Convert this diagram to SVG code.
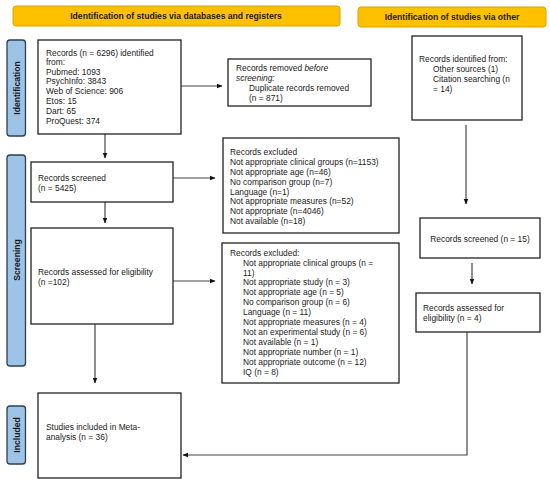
<svg xmlns="http://www.w3.org/2000/svg" width="550" height="483" viewBox="0 0 550 483">
<style>
text{font-family:"Liberation Sans",Arial,sans-serif;font-size:8.4px;fill:#1a1a1a}
.hdr{fill:#FFC000;stroke:#D9A400;stroke-width:1}
.hdrt{font-weight:bold;font-size:8.6px;text-anchor:middle}
.side{fill:#9DC3E6;stroke:#2E3F4F;stroke-width:1.3}
.sidet{font-weight:bold;font-size:8.6px;text-anchor:middle}
.box{fill:#fff;stroke:#222;stroke-width:1.3}
.ln{stroke:#444;stroke-width:1.2;fill:none}
</style>
<defs>
<marker id="ah" viewBox="0 0 10 10" refX="9" refY="5" markerWidth="6" markerHeight="6" orient="auto" markerUnits="userSpaceOnUse">
<path d="M0,1 L10,5 L0,9 z" fill="#111"/>
</marker>
</defs>
<rect width="550" height="483" fill="#fff"/>
<g id="header-db"><rect class="hdr" x="13" y="6" width="327" height="20" rx="3"/><text class="hdrt" x="176" y="19">Identification of studies via databases and registers</text></g>
<g id="header-other"><rect class="hdr" x="358" y="7" width="188" height="20" rx="3"/><text class="hdrt" x="452" y="20">Identification of studies via other</text></g>
<g id="side-identification"><rect class="side" x="7" y="40" width="18.5" height="96" rx="3"/><text class="sidet" transform="translate(19.5,88) rotate(-90)">Identification</text></g>
<g id="side-screening"><rect class="side" x="7" y="155" width="18.5" height="211" rx="3"/><text class="sidet" transform="translate(19.5,260) rotate(-90)">Screening</text></g>
<g id="side-included"><rect class="side" x="7" y="406" width="18.5" height="58" rx="3"/><text class="sidet" transform="translate(19.5,435) rotate(-90)">Included</text></g>
<g id="connectors">
<line class="ln" x1="181" y1="86" x2="222" y2="86" marker-end="url(#ah)"/>
<line class="ln" x1="105" y1="134" x2="105" y2="158" marker-end="url(#ah)"/>
<line class="ln" x1="173" y1="178" x2="215" y2="178" marker-end="url(#ah)"/>
<line class="ln" x1="105" y1="202" x2="105" y2="223" marker-end="url(#ah)"/>
<line class="ln" x1="173" y1="281" x2="215" y2="281" marker-end="url(#ah)"/>
<line class="ln" x1="95" y1="324" x2="95" y2="383" marker-end="url(#ah)"/>
<line class="ln" x1="466" y1="125" x2="466" y2="204" marker-end="url(#ah)"/>
<line class="ln" x1="472" y1="263" x2="472" y2="284" marker-end="url(#ah)"/>
<polyline class="ln" points="467,332 467,455 183,455" marker-end="url(#ah)"/>
</g>
<g id="records-identified"><rect class="box" x="38" y="40" width="143" height="94"/>
<text x="46" y="55.5">Records (n = 6296) identified</text>
<text x="46" y="65">from:</text>
<text x="46" y="74.7">Pubmed: 1093</text>
<text x="46" y="84.4">PsychInfo: 3843</text>
<text x="46" y="94.1">Web of Science: 906</text>
<text x="46" y="103.8">Etos: 15</text>
<text x="46" y="113.6">Dart: 65</text>
<text x="46" y="123.6">ProQuest: 374</text>
</g>
<g id="records-removed"><rect class="box" x="228" y="59" width="143" height="47"/>
<text x="236" y="70.8">Records removed <tspan font-style="italic">before</tspan></text>
<text x="236" y="80.8" font-style="italic">screening:</text>
<text x="249" y="90.6">Duplicate records removed</text>
<text x="249" y="100.6">(n = 871)</text>
</g>
<g id="records-other"><rect class="box" x="412" y="36" width="110" height="84"/>
<text x="419" y="62">Records identified from:</text>
<text x="433" y="72">Other sources (1)</text>
<text x="433" y="82">Citation searching (n</text>
<text x="433" y="92">= 14)</text>
</g>
<g id="records-screened"><rect class="box" x="31" y="162" width="142" height="40"/>
<text x="38" y="181">Records screened</text>
<text x="38" y="191">(n = 5425)</text>
</g>
<g id="records-excluded-1"><rect class="box" x="223" y="138" width="176" height="95"/>
<text x="230" y="155">Records excluded</text>
<text x="230" y="165">Not appropriate clinical groups (n=1153)</text>
<text x="230" y="175.4">Not appropriate age (n=46)</text>
<text x="230" y="185">No comparison group (n=7)</text>
<text x="230" y="194.7">Language (n=1)</text>
<text x="230" y="204.4">Not appropriate measures (n=52)</text>
<text x="230" y="214.4">Not appropriate (n=4046)</text>
<text x="230" y="223.7">Not available (n=18)</text>
</g>
<g id="records-assessed"><rect class="box" x="31" y="228" width="142" height="96"/>
<text x="38" y="275">Records assessed for eligibility</text>
<text x="38" y="285">(n =102)</text>
</g>
<g id="records-excluded-2"><rect class="box" x="222" y="243" width="177" height="140"/>
<text x="230" y="256">Records excluded:</text>
<text x="243" y="266">Not appropriate clinical groups (n =</text>
<text x="243" y="275.5">11)</text>
<text x="243" y="285.4">Not appropriate study (n = 3)</text>
<text x="243" y="295">Not appropriate age (n = 5)</text>
<text x="243" y="305">No comparison group (n = 6)</text>
<text x="243" y="315.3">Language (n = 11)</text>
<text x="243" y="325.3">Not appropriate measures (n = 4)</text>
<text x="243" y="335.3">Not an experimental study (n = 6)</text>
<text x="243" y="344.8">Not available (n = 1)</text>
<text x="243" y="354.8">Not appropriate number (n = 1)</text>
<text x="243" y="364.7">Not appropriate outcome (n = 12)</text>
<text x="243" y="374.7">IQ (n = 8)</text>
</g>
<g id="screened-other"><rect class="box" x="420" y="218" width="120" height="40"/>
<text x="480" y="241.5" text-anchor="middle">Records screened (n = 15)</text>
</g>
<g id="assessed-other"><rect class="box" x="416" y="293" width="124" height="39"/>
<text x="423" y="310.5">Records assessed for</text>
<text x="423" y="320.5">eligibility (n = 4)</text>
</g>
<g id="included"><rect class="box" x="38" y="393" width="143" height="85"/>
<text x="46" y="429.5">Studies included in Meta-</text>
<text x="46" y="439.5">analysis (n = 36)</text>
</g>
</svg>
